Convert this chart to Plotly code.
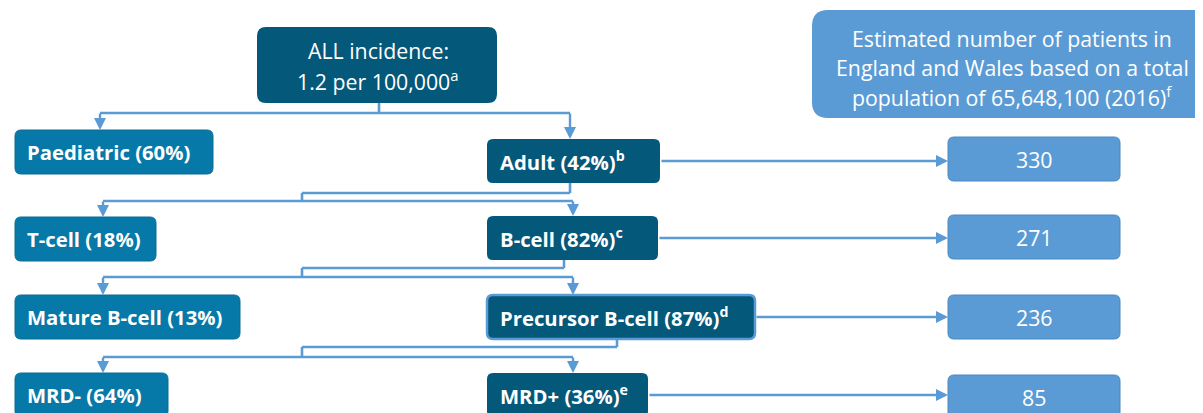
import plotly.graph_objects as go

# ---- data ----
incidence_per_100k = 1.2
incidence_note = "a"
population = "65,648,100"
population_year = 2016
population_note = "f"

left_labels = ["Paediatric", "T-cell", "Mature B-cell", "MRD-"]
left_pct = [60, 18, 13, 64]
right_labels = ["Adult", "B-cell", "Precursor B-cell", "MRD+"]
right_pct = [42, 82, 87, 36]
right_notes = ["b", "c", "d", "e"]
patients = [330, 271, 236, 85]

# ---- styling / layout ----
W, H = 1203, 413
OFF = 8  # default page body margin
DARK = "#04587A"
MID = "#0679A8"
LIGHT = "#5B9BD5"
FONT = "Open Sans"
NORMAL_SIZE = 21.3
BOLD_SIZE = 20.3

fig = go.Figure()
shapes = []
annotations = []


def rrect(x0, y0, x1, y1, r, fill, line_color=None, line_width=0):
    p = (f"M {x0+r},{y0} L {x1-r},{y0} Q {x1},{y0} {x1},{y0+r} "
         f"L {x1},{y1-r} Q {x1},{y1} {x1-r},{y1} L {x0+r},{y1} "
         f"Q {x0},{y1} {x0},{y1-r} L {x0},{y0+r} Q {x0},{y0} {x0+r},{y0} Z")
    shapes.append(dict(type="path", path=p, xref="x", yref="y", fillcolor=fill,
                       line=dict(color=line_color or fill, width=line_width), layer="above"))


def seg(x0, y0, x1, y1):
    shapes.append(dict(type="line", x0=x0, y0=y0, x1=x1, y1=y1, xref="x", yref="y",
                       line=dict(color=LIGHT, width=2.6), layer="below"))


def arrow(x0, y0, x1, y1):
    annotations.append(dict(x=x1, y=y1, ax=x0, ay=y0, xref="x", yref="y", axref="x", ayref="y",
                            text="", showarrow=True, arrowhead=2, arrowsize=1.0, arrowwidth=2.4,
                            arrowcolor=LIGHT, standoff=0))


def text(x, y, t, size, bold=False, anchor="center"):
    annotations.append(dict(x=x, y=y, xref="x", yref="y", text=f"<b>{t}</b>" if bold else t,
                            showarrow=False, xanchor=anchor, yanchor="middle",
                            font=dict(family=FONT, size=size, color="white")))


# top box
rrect(257, 27, 497, 103, 9, DARK)
text(378, 50, "ALL incidence:", NORMAL_SIZE)
text(378, 80, f"{incidence_per_100k} per 100,000<sup>{incidence_note}</sup>", NORMAL_SIZE)

# estimated box
rrect(812, 10, 1218, 118, 16, LIGHT)
text(1012, 38, "Estimated number of patients in", NORMAL_SIZE)
text(1012, 67, "England and Wales based on a total", NORMAL_SIZE)
text(1012, 96, f"population of {population} ({population_year})<sup>{population_note}</sup>", NORMAL_SIZE)

left_x1 = [213, 156, 240, 168]
left_top = [130, 217, 295, 373]
right_x1 = [660, 658, 755, 648]
right_top = [139, 216, 295, 373]
num_top = [137, 215, 295, 375]
BH = 44

for i in range(4):
    rrect(15, left_top[i], left_x1[i], left_top[i] + BH, 6, MID, "#0a6d96", 1)
    text(25, left_top[i] + BH / 2, f"{left_labels[i]} ({left_pct[i]}%)", BOLD_SIZE, bold=True, anchor="left")
    if i == 2:
        rrect(487, right_top[i], right_x1[i], right_top[i] + BH, 6, DARK, LIGHT, 2.5)
    else:
        rrect(487, right_top[i], right_x1[i], right_top[i] + BH, 6, DARK)
    text(498, right_top[i] + BH / 2, f"{right_labels[i]} ({right_pct[i]}%)<sup>{right_notes[i]}</sup>",
         BOLD_SIZE, bold=True, anchor="left")
    rrect(948, num_top[i], 1120, num_top[i] + BH, 6, LIGHT, "#4a88c2", 1)
    text(1034, num_top[i] + BH / 2, str(patients[i]), NORMAL_SIZE)
    ym = right_top[i] + BH / 2
    arrow(right_x1[i], ym, 948, ym)

# connectors
seg(379, 103, 379, 113)
seg(100, 113, 570, 113)
arrow(100, 112, 100, 130)
arrow(570, 112, 570, 139)

parent_x = [570, 564, 617]
parent_bottom = [183, 260, 339]
upper_y = [193, 268, 347]
lower_y = [201, 277, 357]
for k in range(3):
    seg(parent_x[k], parent_bottom[k], parent_x[k], upper_y[k])
    seg(302, upper_y[k], parent_x[k], upper_y[k])
    seg(302, upper_y[k], 302, lower_y[k])
    seg(103, lower_y[k], 573, lower_y[k])
    arrow(103, lower_y[k] - 1, 103, left_top[k + 1])
    arrow(573, lower_y[k] - 1, 573, right_top[k + 1])

fig.update_layout(
    width=W - OFF, height=H - OFF, margin=dict(l=0, r=0, t=0, b=0),
    paper_bgcolor="white", plot_bgcolor="white",
    xaxis=dict(range=[OFF, W], visible=False, fixedrange=True),
    yaxis=dict(range=[H, OFF], visible=False, fixedrange=True),
    shapes=shapes, annotations=annotations, showlegend=False,
)
fig.write_html("out.html")
